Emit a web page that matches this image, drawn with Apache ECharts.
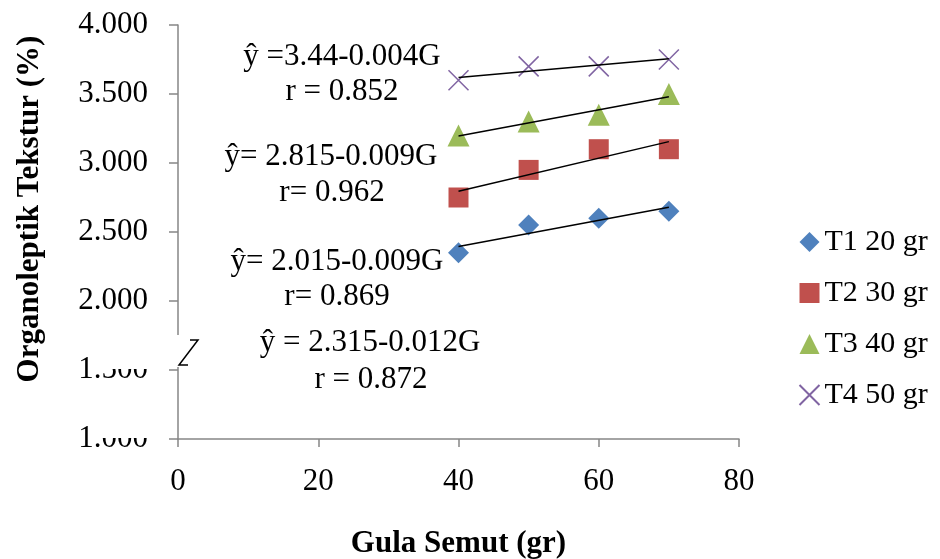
<!DOCTYPE html>
<html>
<head>
<meta charset="utf-8">
<title>Organoleptik Tekstur</title>
<script src="https://cdn.jsdelivr.net/npm/echarts@6/dist/echarts.min.js"></script>
<style>
  html, body { margin: 0; padding: 0; background: #fff; }
  #chart { width: 940px; height: 559px; }
</style>
</head>
<body>
<div id="chart"></div>
<script>
// Values
const gula = [40, 50, 60, 70];
const t1 = [2.35, 2.55, 2.60, 2.65];
const t2 = [2.75, 2.95, 3.10, 3.10];
const t3 = [3.20, 3.30, 3.35, 3.50];
const t4 = [3.60, 3.70, 3.70, 3.75];

// trend line end points (x = 40 and x = 70)
const trendX = [40, 70];
const trend1 = [2.395, 2.68];
const trend2 = [2.795, 3.155];
const trend3 = [3.195, 3.48];
const trend4 = [3.62, 3.755];

const seriesNames = ['T1 20 gr', 'T2 30 gr', 'T3 40 gr', 'T4 50 gr'];
const seriesColors = ['#4F81BD', '#C0504D', '#9BBB59', '#8064A2'];

// equation labels, placed as in the picture
const eqTexts = [
    'ŷ =3.44-0.004G', 'r = 0.852',
    'ŷ= 2.815-0.009G', 'r= 0.962',
    'ŷ= 2.015-0.009G', 'r= 0.869',
    'ŷ = 2.315-0.012G', 'r = 0.872'
];
const eqPos = [
    [342, 57], [342, 92],
    [331, 157], [332, 193],
    [337, 262], [337, 297],
    [370, 343], [371, 380]
];

const FONT = "'Liberation Serif', 'Times New Roman', serif";
const AXIS_GRAY = '#868686';

const pts = vals => gula.map((g, i) => [g, vals[i]]);
const trendPts = vals => trendX.map((x, i) => [x, vals[i]]);

const chart = echarts.init(document.getElementById('chart'), null, { renderer: 'canvas' });

function trendSeries(vals) {
    return {
        type: 'line',
        data: trendPts(vals),
        symbol: 'none',
        silent: true,
        z: 5,
        lineStyle: { color: '#000', width: 1.5 },
        animation: false
    };
}

const eqGraphics = eqTexts.map((t, i) => ({
    type: 'text',
    x: eqPos[i][0],
    y: eqPos[i][1],
    z: 10,
    style: {
        text: t,
        font: '31px ' + FONT,
        fill: '#000',
        textAlign: 'center',
        textVerticalAlign: 'middle'
    }
}));

const option = {
    animation: false,
    backgroundColor: '#fff',
    grid: {
        left: 178, top: 25, width: 561, height: 414,
        containLabel: false,
        outerBoundsMode: 'none'
    },
    xAxis: {
        type: 'value',
        min: 0,
        max: 80,
        interval: 20,
        name: 'Gula Semut (gr)',
        nameLocation: 'middle',
        nameGap: 89,
        nameTextStyle: { fontFamily: FONT, fontSize: 31, fontWeight: 'bold', color: '#000' },
        axisLine: { show: true, lineStyle: { color: AXIS_GRAY, width: 1.5 } },
        axisTick: { show: true, inside: false, length: 8, lineStyle: { color: AXIS_GRAY, width: 1.5 } },
        axisLabel: { margin: 27, fontFamily: FONT, fontSize: 31, color: '#000' },
        splitLine: { show: false }
    },
    yAxis: {
        type: 'value',
        min: 1,
        max: 4,
        interval: 0.5,
        axisLine: { show: true, lineStyle: { color: AXIS_GRAY, width: 1.5 } },
        axisTick: { show: true, inside: false, length: 9, lineStyle: { color: AXIS_GRAY, width: 1.5 } },
        axisLabel: {
            margin: 30,
            fontFamily: FONT,
            fontSize: 31,
            color: '#000',
            formatter: v => v.toFixed(3)
        },
        splitLine: { show: false }
    },
    legend: {
        orient: 'vertical',
        left: 797,
        top: 227,
        padding: 0,
        itemWidth: 20,
        itemHeight: 20,
        itemGap: 21,
        data: seriesNames,
        textStyle: { fontFamily: FONT, fontSize: 30, color: '#000' }
    },
    series: [
        {
            name: seriesNames[0], type: 'scatter', data: pts(t1),
            symbol: 'diamond', symbolSize: 21, z: 3,
            itemStyle: { color: seriesColors[0], opacity: 1 }
        },
        {
            name: seriesNames[1], type: 'scatter', data: pts(t2),
            symbol: 'rect', symbolSize: 20, z: 3,
            itemStyle: { color: seriesColors[1], opacity: 1 }
        },
        {
            name: seriesNames[2], type: 'scatter', data: pts(t3),
            symbol: 'triangle', symbolSize: 22, z: 3,
            itemStyle: { color: seriesColors[2], opacity: 1 }
        },
        {
            name: seriesNames[3], type: 'scatter', data: pts(t4),
            symbol: 'path://M0,0L20,20M20,0L0,20', symbolSize: 20, z: 3,
            itemStyle: { color: 'none', borderColor: seriesColors[3], borderWidth: 1.5, opacity: 1 }
        },
        trendSeries(trend1),
        trendSeries(trend2),
        trendSeries(trend3),
        trendSeries(trend4)
    ],
    graphic: [
        // y axis title
        {
            type: 'text',
            x: 30,
            y: 209,
            rotation: Math.PI / 2,
            style: {
                text: 'Organoleptik Tekstur (%)',
                font: 'bold 31px ' + FONT,
                fill: '#000',
                textAlign: 'center',
                textVerticalAlign: 'middle'
            }
        },
        // masks that hide the tops of the lower tick labels
        { type: 'rect', shape: { x: 99, y: 330, width: 52, height: 39 }, style: { fill: '#fff' }, z: 20 },
        { type: 'rect', shape: { x: 99, y: 398, width: 52, height: 40 }, style: { fill: '#fff' }, z: 20 },
        // axis break
        { type: 'rect', shape: { x: 173, y: 335, width: 10, height: 32 }, style: { fill: '#fff' }, z: 20 },
        {
            type: 'polyline',
            shape: { points: [[190, 340], [198, 340], [179, 365], [188, 365]] },
            style: { stroke: '#000', lineWidth: 1.5, fill: 'none' },
            z: 21
        }
    ].concat(eqGraphics)
};

chart.setOption(option);
</script>
</body>
</html>
